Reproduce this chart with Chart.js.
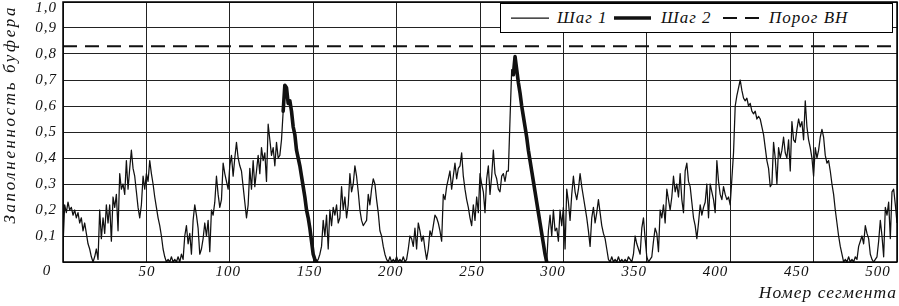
<!DOCTYPE html>
<html><head><meta charset="utf-8">
<script src="https://cdn.jsdelivr.net/npm/chart.js@4.4.1/dist/chart.umd.min.js"></script>
<style>
html,body{margin:0;padding:0;background:#fff;}
#wrap{position:relative;width:899px;height:306px;overflow:hidden;}
#legend{position:absolute;left:500px;top:3px;width:391px;height:28px;border:1px solid #000;background:#fff;
  font-family:"Liberation Serif","Times New Roman",serif;font-style:italic;font-size:17px;letter-spacing:1px;color:#111;}
#legend .s{position:absolute;top:7px;}
#legend .t{position:absolute;top:4px;white-space:nowrap;}
</style></head><body>
<div id="wrap"><canvas id="c" width="899" height="306"></canvas><div id="legend"></div></div>
<script>
// ---- data ----
const seriesNames = ['Шаг 1', 'Шаг 2', 'Порог ВН'];
const xTitle = 'Номер сегмента';
const yTitle = 'Заполненность буфера';
const bufferFill = [
 0.06,0.22,0.19,0.23,0.20,0.21,0.18,0.20,0.17,0.19,
 0.15,0.17,0.12,0.15,0.11,0.07,0.05,0.02,0.00,0.02,
 0.05,0.01,0.20,0.09,0.17,0.11,0.22,0.15,0.22,0.08,
 0.25,0.21,0.26,0.12,0.34,0.28,0.30,0.26,0.39,0.28,
 0.36,0.43,0.36,0.33,0.27,0.21,0.17,0.22,0.33,0.28,
 0.34,0.31,0.39,0.34,0.30,0.25,0.21,0.17,0.14,0.10,
 0.05,0.02,0.00,0.01,0.00,0.02,0.00,0.01,0.00,0.02,
 0.00,0.03,0.01,0.10,0.14,0.07,0.11,0.03,0.16,0.22,
 0.18,0.13,0.03,0.05,0.09,0.15,0.10,0.16,0.04,0.20,
 0.18,0.23,0.33,0.26,0.21,0.24,0.38,0.34,0.31,0.28,
 0.37,0.41,0.33,0.40,0.46,0.40,0.37,0.35,0.29,0.23,
 0.17,0.22,0.36,0.28,0.39,0.29,0.35,0.41,0.34,0.44,
 0.39,0.42,0.31,0.53,0.47,0.41,0.44,0.37,0.46,0.40,
 0.41,0.47,0.58,0.68,0.67,0.61,0.62,0.58,0.52,0.49,
 0.43,0.40,0.37,0.33,0.29,0.25,0.20,0.17,0.13,0.08,
 0.03,0.01,0.00,0.01,0.03,0.06,0.16,0.10,0.18,0.05,
 0.20,0.14,0.21,0.18,0.22,0.15,0.17,0.29,0.20,0.25,
 0.17,0.22,0.34,0.27,0.30,0.37,0.33,0.27,0.20,0.16,
 0.14,0.15,0.16,0.26,0.22,0.28,0.32,0.30,0.24,0.19,
 0.12,0.10,0.06,0.03,0.01,0.00,0.02,0.00,0.01,0.00,
 0.02,0.00,0.01,0.00,0.02,0.00,0.01,0.05,0.10,0.09,
 0.06,0.13,0.05,0.15,0.12,0.08,0.10,0.05,0.01,0.05,
 0.12,0.10,0.14,0.18,0.17,0.15,0.12,0.08,0.26,0.24,
 0.29,0.32,0.35,0.28,0.33,0.38,0.32,0.36,0.37,0.42,
 0.33,0.28,0.24,0.21,0.17,0.14,0.22,0.16,0.25,0.19,
 0.34,0.30,0.27,0.19,0.32,0.37,0.26,0.33,0.43,0.34,
 0.32,0.28,0.27,0.33,0.34,0.31,0.35,0.35,0.55,0.74,
 0.72,0.79,0.74,0.69,0.65,0.60,0.56,0.52,0.48,0.43,
 0.39,0.35,0.31,0.27,0.23,0.19,0.15,0.11,0.07,0.03,
 0.00,0.12,0.18,0.10,0.20,0.12,0.13,0.08,0.20,0.14,
 0.21,0.05,0.28,0.23,0.16,0.26,0.33,0.27,0.24,0.28,
 0.34,0.29,0.25,0.21,0.17,0.12,0.06,0.17,0.21,0.15,
 0.19,0.24,0.19,0.14,0.11,0.09,0.05,0.01,0.00,0.02,
 0.00,0.01,0.00,0.02,0.00,0.01,0.00,0.01,0.00,0.02,
 0.01,0.00,0.03,0.10,0.07,0.05,0.03,0.13,0.17,0.09,
 0.02,0.00,0.01,0.02,0.08,0.13,0.11,0.04,0.20,0.17,
 0.22,0.15,0.28,0.24,0.20,0.25,0.33,0.27,0.30,0.25,
 0.34,0.24,0.19,0.35,0.38,0.31,0.29,0.23,0.17,0.14,
 0.09,0.15,0.22,0.18,0.21,0.23,0.30,0.17,0.30,0.27,
 0.24,0.19,0.39,0.31,0.26,0.24,0.29,0.26,0.24,0.25,
 0.22,0.32,0.42,0.60,0.64,0.67,0.70,0.66,0.63,0.62,
 0.63,0.60,0.61,0.58,0.57,0.58,0.55,0.56,0.55,0.52,
 0.49,0.44,0.39,0.36,0.29,0.30,0.46,0.40,0.30,0.44,
 0.40,0.43,0.48,0.42,0.40,0.47,0.35,0.54,0.47,0.46,
 0.51,0.55,0.52,0.54,0.47,0.62,0.52,0.47,0.44,0.40,
 0.33,0.44,0.40,0.43,0.48,0.51,0.48,0.41,0.38,0.39,
 0.35,0.30,0.26,0.20,0.15,0.10,0.06,0.03,0.00,0.01,
 0.00,0.02,0.00,0.01,0.00,0.02,0.01,0.06,0.08,0.10,
 0.07,0.14,0.11,0.09,0.03,0.01,0.00,0.01,0.02,0.08,
 0.16,0.10,0.02,0.21,0.18,0.23,0.09,0.27,0.28,0.22,
 0.15
];
const step2Ranges = [[132, 152], [270, 290]];   // segment ranges drawn as "Шаг 2"
const thresholdHV = 0.83;
const xTickValues = [0, 50, 100, 150, 200, 250, 300, 350, 400, 450, 500];
const yTickValues = [0, 0.1, 0.2, 0.3, 0.4, 0.5, 0.6, 0.7, 0.8, 0.9, 1.0];

// ---- build datasets ----
const inside = (i) => step2Ranges.some(([a, b]) => i > a && i < b);
const within = (i) => step2Ranges.some(([a, b]) => i >= a && i <= b);
const step1Data = bufferFill.map((v, i) => ({x: i, y: inside(i) ? null : v}));
const step2Data = bufferFill.map((v, i) => ({x: i, y: within(i) ? v : null}));
const thrData = [{x: xTickValues[0], y: thresholdHV}, {x: xTickValues[xTickValues.length - 1], y: thresholdHV}];

const FONT = '"Liberation Serif","Times New Roman",serif';
const INK = '#111';

const extras = {
  id: 'extras',
  beforeUpdate(chart) { chart.ctx.letterSpacing = '1px'; },
  beforeDraw(chart) { chart.ctx.letterSpacing = '1px'; },
  afterDatasetsDraw(chart) {
    const {ctx, chartArea: a, scales: {x, y}} = chart;
    ctx.save();
    ctx.strokeStyle = '#000';
    ctx.lineWidth = 1.5;
    ctx.strokeRect(a.left, a.top, a.right - a.left, a.bottom - a.top);
    ctx.fillStyle = INK;
    ctx.font = 'italic 15px ' + FONT;
    ctx.textAlign = 'right';
    ctx.textBaseline = 'top';
    ctx.fillText('1,0', x.left - 6, y.getPixelForValue(1) - 1);
    ctx.textAlign = 'center';
    ctx.fillText('0', x.left - 16, y.bottom + 2);
    // y-axis title (letter-spaced, like the original)
    ctx.letterSpacing = '2.6px';
    ctx.font = 'italic 17px ' + FONT;
    ctx.translate(11, y.top + 3);
    ctx.rotate(-Math.PI / 2);
    ctx.textAlign = 'right';
    ctx.textBaseline = 'middle';
    ctx.fillText(yTitle, 0, 0);
    ctx.restore();
  }
};

new Chart(document.getElementById('c'), {
  type: 'line',
  data: {datasets: [
    {label: seriesNames[0], data: step1Data, borderColor: INK, borderWidth: 1.25, pointRadius: 0, tension: 0, spanGaps: false, borderJoinStyle: 'round'},
    {label: seriesNames[1], data: step2Data, borderColor: INK, borderWidth: 3.6, pointRadius: 0, tension: 0, spanGaps: false, borderJoinStyle: 'round', borderCapStyle: 'round'},
    {label: seriesNames[2], data: thrData, borderColor: INK, borderWidth: 2, borderDash: [14, 8], pointRadius: 0}
  ]},
  options: {
    responsive: false, animation: false, devicePixelRatio: 1,
    layout: {padding: {top: 2, right: 2, left: 0, bottom: 0}},
    plugins: {legend: {display: false}, tooltip: {enabled: false}},
    scales: {
      x: {
        type: 'linear', position: 'bottom', min: 0, max: 500, weight: 0,
        afterBuildTicks(s) { s.ticks = xTickValues.map(v => ({value: v})); },
        ticks: {display: false},
        grid: {color: '#222', lineWidth: 1, drawTicks: false},
        border: {display: false},
        afterFit(s) { s.height = 0; s.paddingLeft = 0; s.paddingRight = 0; }
      },
      xl: {
        type: 'linear', position: 'bottom', min: -1.7, max: 511.7, weight: 1,
        afterBuildTicks(s) { s.ticks = xTickValues.map(v => ({value: v})); },
        ticks: {callback: v => v === 0 ? '' : String(v), color: INK, font: {family: FONT, style: 'italic', size: 15},
                padding: 1, maxRotation: 0, autoSkip: false},
        grid: {display: false, drawTicks: false},
        border: {display: false},
        title: {display: true, text: xTitle, align: 'end', color: INK,
                font: {family: FONT, style: 'italic', size: 17.5}, padding: {top: 0, bottom: 2}},
        afterFit(s) { s.height = 44; s.paddingLeft = 0; s.paddingRight = 0; }
      },
      y: {
        min: 0, max: 1,
        afterBuildTicks(s) { s.ticks = yTickValues.map(v => ({value: v})); },
        ticks: {callback: v => (v === 0 || v === 1) ? '' : v.toFixed(1).replace('.', ','), color: INK,
                font: {family: FONT, style: 'italic', size: 15}, padding: 6},
        grid: {color: '#222', lineWidth: 1, drawTicks: false},
        border: {display: false},
        title: {display: false},
        afterFit(s) { s.width = 63; s.paddingTop = 0; s.paddingBottom = 0; }
      }
    }
  },
  plugins: [extras]
});

// ---- legend (HTML overlay, real text) ----
const lg = document.getElementById('legend');
const samples = [
  {w: 38, sw: 1.25, dash: '', left: 10, textLeft: 56},
  {w: 37, sw: 3.6, dash: '', left: 113, textLeft: 160},
  {w: 36, sw: 2, dash: '14 8', left: 222, textLeft: 268}
];
samples.forEach((s, i) => {
  const svg = `<svg class="s" style="left:${s.left}px" width="${s.w}" height="14"><line x1="0" y1="7" x2="${s.w}" y2="7" stroke="${INK}" stroke-width="${s.sw}" ${s.dash ? `stroke-dasharray="${s.dash}"` : ''}/></svg>`;
  lg.insertAdjacentHTML('beforeend', svg + `<span class="t" style="left:${s.textLeft}px">${seriesNames[i]}</span>`);
});
</script>
</body></html>
